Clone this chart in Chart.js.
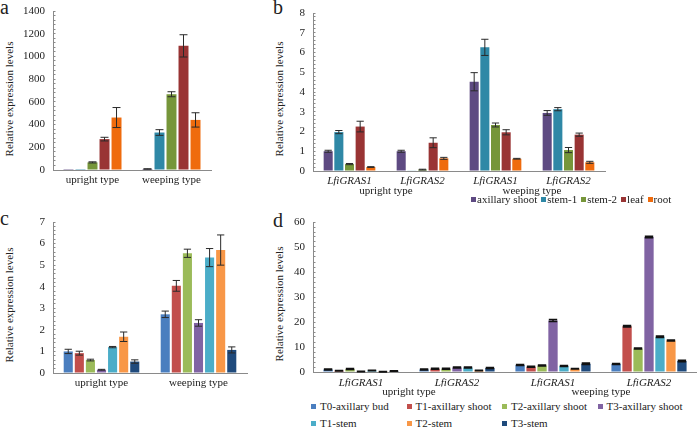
<!DOCTYPE html>
<html>
<head>
<meta charset="utf-8">
<script src="https://cdn.jsdelivr.net/npm/chart.js@4.4.1/dist/chart.umd.min.js"></script>
<style>
    body { margin: 0; width: 697px; height: 429px; overflow: hidden; position: relative; background: #fff;
           font-family: "Liberation Serif", "Times New Roman", serif; color: #222; }
    canvas { position: absolute; }
    .letter { position: absolute; font-size: 20px; line-height: 1; }
    .ytitle { position: absolute; font-size: 11px; line-height: 1; white-space: nowrap;
              transform: translate(-50%, -50%) rotate(-90deg); }
    .legend { position: absolute; font-size: 11px; line-height: 1; white-space: nowrap; }
    .legend .item { display: inline-flex; align-items: center; }
    .legend .sw { display: inline-block; width: 5px; height: 5px; }
    #legendB .item { margin-right: 4px; }
    #legendB .sw { margin-right: 1px; }
    #legendD { display: grid; grid-template-columns: repeat(4, 95.5px); row-gap: 6px; }
    #legendD .sw { margin-right: 4px; }
</style>
</head>
<body>

<div class="letter" style="left:0px;top:-3px">a</div>
<div class="letter" style="left:273px;top:-3px">b</div>
<div class="letter" style="left:0px;top:208px">c</div>
<div class="letter" style="left:273px;top:210px">d</div>

<div class="ytitle" style="left:9px;top:99px">Relative expression levels</div>
<div class="ytitle" style="left:279px;top:99px">Relative expression levels</div>
<div class="ytitle" style="left:9px;top:305px">Relative expression levels</div>
<div class="ytitle" style="left:279px;top:304px">Relative expression levels</div>

<canvas id="chartA" width="215" height="190" style="left:0px;top:0px"></canvas>
<canvas id="chartB" width="340" height="198" style="left:270px;top:0px"></canvas>
<canvas id="chartC" width="260" height="183" style="left:0px;top:210px"></canvas>
<canvas id="chartD" width="427" height="189" style="left:270px;top:210px"></canvas>

<div class="legend" id="legendB" style="left:471px;top:193px"></div>
<div class="legend" id="legendD" style="left:311px;top:401px"></div>

<script>
// ---- panel a: tissues, two plant types ----
const typeLabels = ['upright type', 'weeping type'];
const tissueNames = ['axillary shoot', 'stem-1', 'stem-2', 'leaf', 'root'];
const tissueColors = ['#5e4a82', '#2f88a6', '#76963a', '#993434', '#ef6b0d'];
const aValues = [[1, 9], [1, 330], [67, 667], [272, 1093], [462, 441]];
const aErrors = [[0, 2], [0, 25], [5, 22], [16, 98], [88, 63]];
const aTicks = { max: 1400, step: 200, minor: 40 };

// ---- panel b: two genes per type ----
const geneLabels = ['LfiGRAS1', 'LfiGRAS2', 'LfiGRAS1', 'LfiGRAS2'];
const bValues = [
    [1.0, 1.0, 4.52, 2.94],
    [1.97, 0.02, 6.26, 3.13],
    [0.35, 0.07, 2.33, 1.06],
    [2.25, 1.43, 1.96, 1.84],
    [0.2, 0.64, 0.62, 0.44]
];
const bErrors = [
    [0.05, 0.05, 0.46, 0.12],
    [0.08, 0, 0.41, 0.08],
    [0.03, 0.02, 0.1, 0.13],
    [0.27, 0.25, 0.13, 0.08],
    [0.02, 0.05, 0.02, 0.05]
];
const bTicks = { max: 8, step: 1, minor: 0.2 };

// ---- panels c and d: time points ----
const stageNames = ['T0-axillary bud', 'T1-axillary shoot', 'T2-axillary shoot', 'T3-axillary shoot',
                    'T1-stem', 'T2-stem', 'T3-stem'];
const stageColors = ['#4a7ebf', '#c24f4c', '#9bbb59', '#8063a3', '#4badc8', '#f89747', '#1f4a7c'];
const cValues = [[1.0, 2.72], [0.92, 4.04], [0.6, 5.55], [0.15, 2.32], [1.2, 5.35], [1.68, 5.7], [0.53, 1.07]];
const cErrors = [[0.1, 0.15], [0.09, 0.25], [0.04, 0.19], [0.02, 0.15], [0.03, 0.42], [0.22, 0.7], [0.08, 0.14]];
const cTicks = { max: 7, step: 1, minor: 0.2 };

const dValues = [
    [1.0, 1.0, 2.8, 3.2],
    [0.5, 1.3, 2.1, 18.3],
    [1.2, 1.3, 2.6, 9.4],
    [0.2, 1.8, 20.6, 54.0],
    [0.6, 1.8, 2.4, 14.1],
    [0.1, 0.6, 1.3, 12.6],
    [0.4, 1.6, 3.3, 4.4]
];
const dErrors = [
    [0.2, 0.2, 0.2, 0.2],
    [0.1, 0.2, 0.2, 0.3],
    [0.2, 0.2, 0.2, 0.2],
    [0.1, 0.2, 0.4, 0.3],
    [0.1, 0.2, 0.2, 0.3],
    [0.1, 0.1, 0.1, 0.2],
    [0.1, 0.2, 0.3, 0.3]
];
const dTicks = { max: 60, step: 10, minor: 2 };

const AXIS_GREY = '#8a8a8a';
const FONT = '"Liberation Serif", "Times New Roman", serif';

// draws whiskers for every bar from ds.errors, using the chart's own y scale
const errorBarPlugin = {
    id: 'errorBars',
    afterDatasetsDraw(chart, args, opts) {
        const ctx = chart.ctx;
        const yScale = chart.scales.y;
        ctx.save();
        ctx.strokeStyle = opts.color;
        ctx.lineWidth = opts.lineWidth;
        chart.data.datasets.forEach((ds, i) => {
            const meta = chart.getDatasetMeta(i);
            meta.data.forEach((bar, j) => {
                const err = ds.errors[j];
                if (!err) return;
                const v = ds.data[j];
                const yTop = yScale.getPixelForValue(v + err);
                const yBot = yScale.getPixelForValue(Math.max(v - err, 0));
                const half = bar.width * opts.capRatio;
                ctx.beginPath();
                ctx.moveTo(bar.x, yTop); ctx.lineTo(bar.x, yBot);
                ctx.moveTo(bar.x - half, yTop); ctx.lineTo(bar.x + half, yTop);
                ctx.moveTo(bar.x - half, yBot); ctx.lineTo(bar.x + half, yBot);
                ctx.stroke();
            });
        });
        ctx.restore();
    }
};

function isMajor(v, step) {
    const r = v / step;
    return Math.abs(r - Math.round(r)) < 1e-6;
}

function buildPanel(id, p) {
    const datasets = p.names.map((name, i) => ({
        label: name,
        data: p.values[i],
        errors: p.errors[i],
        backgroundColor: p.colors[i],
        xAxisID: 'x',
        categoryPercentage: p.catPct,
        barPercentage: p.barPct
    }));

    const scales = {
        x: {
            type: 'category',
            offset: true,
            grid: { display: false, drawTicks: false },
            border: { display: true, color: AXIS_GREY },
            ticks: {
                color: '#222', padding: p.xPad, autoSkip: false, maxRotation: 0,
                font: { family: FONT, size: 11, style: p.italic ? 'italic' : 'normal', lineHeight: 1 }
            },
            afterFit: s => { s.height = p.xHeight; }
        },
        y: {
            min: 0, max: p.ticks.max,
            // minor ticks sit inside the axis, labels only on the major steps
            grid: { display: true, drawOnChartArea: false, drawTicks: true, tickLength: -2.5, color: AXIS_GREY },
            border: { display: true, color: AXIS_GREY },
            ticks: {
                stepSize: p.ticks.minor, color: '#222', padding: 10.5, autoSkip: false,
                font: { family: FONT, size: 11, lineHeight: 1 },
                callback: v => isMajor(v, p.ticks.step) ? String(Math.round(v)) : ''
            },
            afterFit: s => {
                s.width = p.yWidth;
                // the big label padding should not push the plot area down
                s.paddingTop = 0;
                s.paddingBottom = 0;
            }
        }
    };
    if (p.groups) {
        scales.x2 = {
            type: 'category',
            labels: p.groups,
            offset: true,
            position: 'bottom',
            grid: { display: false, drawTicks: false },
            border: { display: false },
            ticks: { color: '#222', padding: 0, autoSkip: false, maxRotation: 0,
                     font: { family: FONT, size: 11, lineHeight: 1 } },
            afterFit: s => { s.height = p.x2Height; }
        };
    }

    return new Chart(document.getElementById(id), {
        type: 'bar',
        data: { labels: p.categories, datasets },
        options: {
            responsive: false,
            animation: false,
            devicePixelRatio: 1,
            layout: { padding: p.padding },
            scales,
            plugins: {
                legend: { display: false },
                tooltip: { enabled: false },
                errorBars: p.err
            }
        },
        plugins: [errorBarPlugin]
    });
}

buildPanel('chartA', {
    categories: typeLabels, names: tissueNames, colors: tissueColors,
    values: aValues, errors: aErrors, ticks: aTicks,
    catPct: 0.76, barPct: 0.83, xPad: 5, xHeight: 20, yWidth: 53,
    padding: { top: 11, right: 4, bottom: 0, left: 0 },
    err: { color: '#2a2a2a', lineWidth: 1, capRatio: 0.4 }
});

buildPanel('chartB', {
    categories: geneLabels, groups: typeLabels, names: tissueNames, colors: tissueColors,
    values: bValues, errors: bErrors, ticks: bTicks, italic: true,
    catPct: 0.73, barPct: 0.85, xPad: 4.5, xHeight: 14.5, x2Height: 12.5, yWidth: 43,
    padding: { top: 13, right: 5, bottom: 0, left: 0 },
    err: { color: '#2a2a2a', lineWidth: 1, capRatio: 0.4 }
});

buildPanel('chartC', {
    categories: typeLabels, names: stageNames, colors: stageColors,
    values: cValues, errors: cErrors, ticks: cTicks,
    catPct: 0.8, barPct: 0.82, xPad: 4.5, xHeight: 20, yWidth: 53,
    padding: { top: 12, right: 13, bottom: 0, left: 0 },
    err: { color: '#2a2a2a', lineWidth: 1, capRatio: 0.4 }
});

buildPanel('chartD', {
    categories: geneLabels, groups: typeLabels, names: stageNames, colors: stageColors,
    values: dValues, errors: dErrors, ticks: dTicks, italic: true,
    catPct: 0.8, barPct: 0.85, xPad: 5.5, xHeight: 14.5, x2Height: 12.5, yWidth: 43,
    padding: { top: 12, right: 0, bottom: 0, left: 0 },
    err: { color: '#111', lineWidth: 1.5, capRatio: 0.45 }
});

// html legends built from the same name / colour arrays
function fillLegend(id, names, colors) {
    const box = document.getElementById(id);
    names.forEach((name, i) => {
        const item = document.createElement('span');
        item.className = 'item';
        const sw = document.createElement('span');
        sw.className = 'sw';
        sw.style.background = colors[i];
        item.appendChild(sw);
        item.appendChild(document.createTextNode(name));
        box.appendChild(item);
    });
}
fillLegend('legendB', tissueNames, tissueColors);
fillLegend('legendD', stageNames, stageColors);
</script>
</body>
</html>
